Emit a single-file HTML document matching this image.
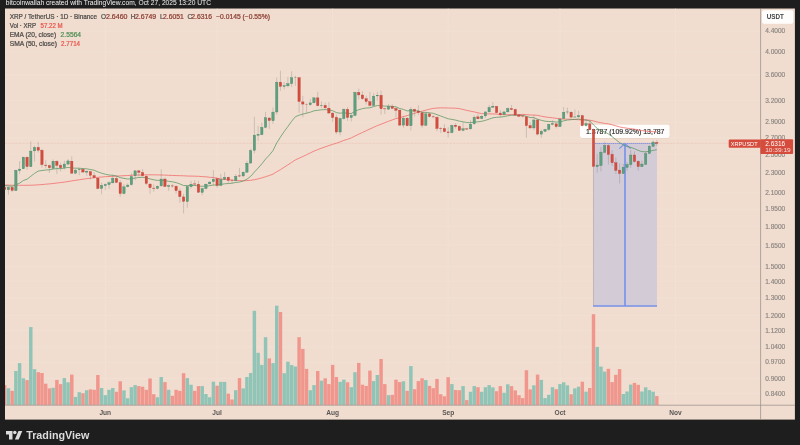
<!DOCTYPE html>
<html lang="en"><head><meta charset="utf-8"><title>XRP / TetherUS chart</title>
<style>html,body{margin:0;padding:0;background:#1e1e1e;overflow:hidden}svg{display:block}text{font-family:"Liberation Sans",Arial,sans-serif}.hd text{stroke:#4d4a48;stroke-width:.22}.hd text[fill="#8c3c33"]{stroke:#8c3c33}.hd text[fill="#e8534a"]{stroke:#e8534a}.hd text[fill="#4f8f55"]{stroke:#4f8f55}.ax text{stroke:#8b8581;stroke-width:.15}</style></head><body>
<svg width="800" height="445" viewBox="0 0 800 445">
<rect width="800" height="445" fill="#1e1e1e"/>
<rect x="5" y="8.3" width="789.9" height="411.3" fill="#f0ddcf"/>
<g stroke="#f3e3d6" stroke-width="0.6" fill="none">
<line x1="5" x2="760.5" y1="30.9" y2="30.9"/>
<line x1="5" x2="760.5" y1="51.8" y2="51.8"/>
<line x1="5" x2="760.5" y1="74.9" y2="74.9"/>
<line x1="5" x2="760.5" y1="100.7" y2="100.7"/>
<line x1="5" x2="760.5" y1="122.2" y2="122.2"/>
<line x1="5" x2="760.5" y1="137.9" y2="137.9"/>
<line x1="5" x2="760.5" y1="154.7" y2="154.7"/>
<line x1="5" x2="760.5" y1="173.0" y2="173.0"/>
<line x1="5" x2="760.5" y1="192.9" y2="192.9"/>
<line x1="5" x2="760.5" y1="209.1" y2="209.1"/>
<line x1="5" x2="760.5" y1="226.7" y2="226.7"/>
<line x1="5" x2="760.5" y1="245.7" y2="245.7"/>
<line x1="5" x2="760.5" y1="266.6" y2="266.6"/>
<line x1="5" x2="760.5" y1="281.7" y2="281.7"/>
<line x1="5" x2="760.5" y1="297.9" y2="297.9"/>
<line x1="5" x2="760.5" y1="315.5" y2="315.5"/>
<line x1="5" x2="760.5" y1="330.6" y2="330.6"/>
<line x1="5" x2="760.5" y1="346.8" y2="346.8"/>
<line x1="5" x2="760.5" y1="362.1" y2="362.1"/>
<line x1="5" x2="760.5" y1="378.5" y2="378.5"/>
<line x1="5" x2="760.5" y1="393.6" y2="393.6"/>
<line x1="105.3" x2="105.3" y1="8" y2="405"/>
<line x1="217.1" x2="217.1" y1="8" y2="405"/>
<line x1="332.6" x2="332.6" y1="8" y2="405"/>
<line x1="448.2" x2="448.2" y1="8" y2="405"/>
<line x1="560.0" x2="560.0" y1="8" y2="405"/>
<line x1="675.5" x2="675.5" y1="8" y2="405"/>
</g>
<g>
<rect x="5.00" y="385.1" width="1.43" height="19.8" fill="#f0968d"/>
<rect x="6.71" y="388.2" width="3.45" height="16.7" fill="#8fc4b6"/>
<rect x="10.43" y="390.8" width="3.45" height="14.1" fill="#f0968d"/>
<rect x="14.16" y="371.0" width="3.45" height="33.9" fill="#8fc4b6"/>
<rect x="17.88" y="363.1" width="3.45" height="41.8" fill="#8fc4b6"/>
<rect x="21.61" y="378.3" width="3.45" height="26.6" fill="#8fc4b6"/>
<rect x="25.34" y="380.1" width="3.45" height="24.8" fill="#f0968d"/>
<rect x="29.06" y="327.1" width="3.45" height="77.8" fill="#8fc4b6"/>
<rect x="32.79" y="369.2" width="3.45" height="35.7" fill="#8fc4b6"/>
<rect x="36.52" y="372.2" width="3.45" height="32.7" fill="#f0968d"/>
<rect x="40.24" y="373.0" width="3.45" height="31.9" fill="#f0968d"/>
<rect x="43.97" y="383.7" width="3.45" height="21.2" fill="#f0968d"/>
<rect x="47.70" y="388.4" width="3.45" height="16.5" fill="#f0968d"/>
<rect x="51.42" y="387.8" width="3.45" height="17.1" fill="#8fc4b6"/>
<rect x="55.15" y="379.9" width="3.45" height="25.0" fill="#f0968d"/>
<rect x="58.88" y="384.1" width="3.45" height="20.8" fill="#f0968d"/>
<rect x="62.60" y="378.1" width="3.45" height="26.8" fill="#8fc4b6"/>
<rect x="66.33" y="382.3" width="3.45" height="22.6" fill="#8fc4b6"/>
<rect x="70.06" y="374.6" width="3.45" height="30.3" fill="#f0968d"/>
<rect x="73.78" y="396.9" width="3.45" height="8.0" fill="#8fc4b6"/>
<rect x="77.51" y="392.2" width="3.45" height="12.7" fill="#8fc4b6"/>
<rect x="81.24" y="393.2" width="3.45" height="11.7" fill="#f0968d"/>
<rect x="84.96" y="390.2" width="3.45" height="14.7" fill="#8fc4b6"/>
<rect x="88.69" y="389.4" width="3.45" height="15.5" fill="#f0968d"/>
<rect x="92.41" y="389.8" width="3.45" height="15.1" fill="#f0968d"/>
<rect x="96.14" y="375.0" width="3.45" height="29.9" fill="#f0968d"/>
<rect x="99.87" y="388.0" width="3.45" height="16.9" fill="#8fc4b6"/>
<rect x="103.59" y="395.2" width="3.45" height="9.7" fill="#8fc4b6"/>
<rect x="107.32" y="389.8" width="3.45" height="15.1" fill="#8fc4b6"/>
<rect x="111.05" y="388.0" width="3.45" height="16.9" fill="#8fc4b6"/>
<rect x="114.77" y="391.8" width="3.45" height="13.1" fill="#f0968d"/>
<rect x="118.50" y="381.3" width="3.45" height="23.6" fill="#f0968d"/>
<rect x="122.23" y="390.4" width="3.45" height="14.5" fill="#8fc4b6"/>
<rect x="125.95" y="398.3" width="3.45" height="6.6" fill="#8fc4b6"/>
<rect x="129.68" y="387.2" width="3.45" height="17.7" fill="#8fc4b6"/>
<rect x="133.41" y="385.1" width="3.45" height="19.8" fill="#8fc4b6"/>
<rect x="137.13" y="386.1" width="3.45" height="18.8" fill="#f0968d"/>
<rect x="140.86" y="386.7" width="3.45" height="18.2" fill="#f0968d"/>
<rect x="144.59" y="389.8" width="3.45" height="15.1" fill="#f0968d"/>
<rect x="148.31" y="378.5" width="3.45" height="26.4" fill="#f0968d"/>
<rect x="152.04" y="394.2" width="3.45" height="10.7" fill="#f0968d"/>
<rect x="155.77" y="397.3" width="3.45" height="7.6" fill="#8fc4b6"/>
<rect x="159.49" y="377.0" width="3.45" height="27.9" fill="#8fc4b6"/>
<rect x="163.22" y="382.1" width="3.45" height="22.8" fill="#f0968d"/>
<rect x="166.94" y="389.8" width="3.45" height="15.1" fill="#8fc4b6"/>
<rect x="170.67" y="395.8" width="3.45" height="9.1" fill="#f0968d"/>
<rect x="174.40" y="389.8" width="3.45" height="15.1" fill="#f0968d"/>
<rect x="178.12" y="390.8" width="3.45" height="14.1" fill="#f0968d"/>
<rect x="181.85" y="373.2" width="3.45" height="31.7" fill="#f0968d"/>
<rect x="185.58" y="378.1" width="3.45" height="26.8" fill="#8fc4b6"/>
<rect x="189.30" y="384.7" width="3.45" height="20.2" fill="#8fc4b6"/>
<rect x="193.03" y="390.8" width="3.45" height="14.1" fill="#f0968d"/>
<rect x="196.76" y="386.1" width="3.45" height="18.8" fill="#f0968d"/>
<rect x="200.48" y="386.1" width="3.45" height="18.8" fill="#8fc4b6"/>
<rect x="204.21" y="394.0" width="3.45" height="10.9" fill="#8fc4b6"/>
<rect x="207.94" y="397.3" width="3.45" height="7.6" fill="#8fc4b6"/>
<rect x="211.66" y="381.7" width="3.45" height="23.2" fill="#8fc4b6"/>
<rect x="215.39" y="385.7" width="3.45" height="19.2" fill="#f0968d"/>
<rect x="219.12" y="381.9" width="3.45" height="23.0" fill="#8fc4b6"/>
<rect x="222.84" y="381.9" width="3.45" height="23.0" fill="#8fc4b6"/>
<rect x="226.57" y="393.6" width="3.45" height="11.3" fill="#f0968d"/>
<rect x="230.30" y="399.5" width="3.45" height="5.4" fill="#f0968d"/>
<rect x="234.02" y="390.2" width="3.45" height="14.7" fill="#8fc4b6"/>
<rect x="237.75" y="378.1" width="3.45" height="26.8" fill="#f0968d"/>
<rect x="241.47" y="388.4" width="3.45" height="16.5" fill="#8fc4b6"/>
<rect x="245.20" y="377.0" width="3.45" height="27.9" fill="#8fc4b6"/>
<rect x="248.93" y="373.0" width="3.45" height="31.9" fill="#8fc4b6"/>
<rect x="252.65" y="310.8" width="3.45" height="94.1" fill="#8fc4b6"/>
<rect x="256.38" y="352.8" width="3.45" height="52.1" fill="#8fc4b6"/>
<rect x="260.11" y="364.9" width="3.45" height="40.0" fill="#8fc4b6"/>
<rect x="263.83" y="337.2" width="3.45" height="67.7" fill="#8fc4b6"/>
<rect x="267.56" y="358.4" width="3.45" height="46.5" fill="#f0968d"/>
<rect x="271.29" y="363.1" width="3.45" height="41.8" fill="#8fc4b6"/>
<rect x="275.01" y="305.7" width="3.45" height="99.2" fill="#8fc4b6"/>
<rect x="278.74" y="312.0" width="3.45" height="92.9" fill="#f0968d"/>
<rect x="282.47" y="373.2" width="3.45" height="31.7" fill="#8fc4b6"/>
<rect x="286.19" y="361.7" width="3.45" height="43.2" fill="#8fc4b6"/>
<rect x="289.92" y="365.1" width="3.45" height="39.8" fill="#8fc4b6"/>
<rect x="293.65" y="366.5" width="3.45" height="38.4" fill="#8fc4b6"/>
<rect x="297.37" y="337.2" width="3.45" height="67.7" fill="#f0968d"/>
<rect x="301.10" y="348.9" width="3.45" height="56.0" fill="#f0968d"/>
<rect x="304.82" y="368.9" width="3.45" height="36.0" fill="#f0968d"/>
<rect x="308.55" y="390.2" width="3.45" height="14.7" fill="#8fc4b6"/>
<rect x="312.28" y="385.1" width="3.45" height="19.8" fill="#8fc4b6"/>
<rect x="316.00" y="371.0" width="3.45" height="33.9" fill="#f0968d"/>
<rect x="319.73" y="380.7" width="3.45" height="24.2" fill="#8fc4b6"/>
<rect x="323.46" y="378.3" width="3.45" height="26.6" fill="#f0968d"/>
<rect x="327.18" y="384.1" width="3.45" height="20.8" fill="#f0968d"/>
<rect x="330.91" y="364.9" width="3.45" height="40.0" fill="#f0968d"/>
<rect x="334.64" y="377.0" width="3.45" height="27.9" fill="#f0968d"/>
<rect x="338.36" y="381.9" width="3.45" height="23.0" fill="#8fc4b6"/>
<rect x="342.09" y="379.7" width="3.45" height="25.2" fill="#8fc4b6"/>
<rect x="345.82" y="382.3" width="3.45" height="22.6" fill="#f0968d"/>
<rect x="349.54" y="387.2" width="3.45" height="17.7" fill="#8fc4b6"/>
<rect x="353.27" y="372.2" width="3.45" height="32.7" fill="#8fc4b6"/>
<rect x="357.00" y="362.9" width="3.45" height="42.0" fill="#f0968d"/>
<rect x="360.72" y="384.7" width="3.45" height="20.2" fill="#f0968d"/>
<rect x="364.45" y="385.9" width="3.45" height="19.0" fill="#f0968d"/>
<rect x="368.18" y="370.6" width="3.45" height="34.3" fill="#f0968d"/>
<rect x="371.90" y="381.1" width="3.45" height="23.8" fill="#8fc4b6"/>
<rect x="375.63" y="375.0" width="3.45" height="29.9" fill="#8fc4b6"/>
<rect x="379.36" y="359.0" width="3.45" height="45.9" fill="#f0968d"/>
<rect x="383.08" y="384.1" width="3.45" height="20.8" fill="#f0968d"/>
<rect x="386.81" y="395.2" width="3.45" height="9.7" fill="#8fc4b6"/>
<rect x="390.53" y="394.8" width="3.45" height="10.1" fill="#f0968d"/>
<rect x="394.26" y="379.7" width="3.45" height="25.2" fill="#f0968d"/>
<rect x="397.99" y="382.1" width="3.45" height="22.8" fill="#f0968d"/>
<rect x="401.71" y="381.3" width="3.45" height="23.6" fill="#8fc4b6"/>
<rect x="405.44" y="390.8" width="3.45" height="14.1" fill="#f0968d"/>
<rect x="409.17" y="366.1" width="3.45" height="38.8" fill="#8fc4b6"/>
<rect x="412.89" y="389.2" width="3.45" height="15.7" fill="#f0968d"/>
<rect x="416.62" y="381.1" width="3.45" height="23.8" fill="#f0968d"/>
<rect x="420.35" y="378.3" width="3.45" height="26.6" fill="#f0968d"/>
<rect x="424.07" y="380.1" width="3.45" height="24.8" fill="#8fc4b6"/>
<rect x="427.80" y="385.9" width="3.45" height="19.0" fill="#f0968d"/>
<rect x="431.53" y="388.2" width="3.45" height="16.7" fill="#f0968d"/>
<rect x="435.25" y="378.9" width="3.45" height="26.0" fill="#f0968d"/>
<rect x="438.98" y="394.2" width="3.45" height="10.7" fill="#f0968d"/>
<rect x="442.71" y="396.3" width="3.45" height="8.6" fill="#f0968d"/>
<rect x="446.43" y="377.2" width="3.45" height="27.7" fill="#f0968d"/>
<rect x="450.16" y="384.1" width="3.45" height="20.8" fill="#8fc4b6"/>
<rect x="453.88" y="390.0" width="3.45" height="14.9" fill="#f0968d"/>
<rect x="457.61" y="390.2" width="3.45" height="14.7" fill="#f0968d"/>
<rect x="461.34" y="386.1" width="3.45" height="18.8" fill="#8fc4b6"/>
<rect x="465.06" y="400.1" width="3.45" height="4.8" fill="#f0968d"/>
<rect x="468.79" y="391.8" width="3.45" height="13.1" fill="#8fc4b6"/>
<rect x="472.52" y="386.1" width="3.45" height="18.8" fill="#8fc4b6"/>
<rect x="476.24" y="387.2" width="3.45" height="17.7" fill="#f0968d"/>
<rect x="479.97" y="391.8" width="3.45" height="13.1" fill="#8fc4b6"/>
<rect x="483.70" y="387.2" width="3.45" height="17.7" fill="#8fc4b6"/>
<rect x="487.42" y="385.1" width="3.45" height="19.8" fill="#8fc4b6"/>
<rect x="491.15" y="387.4" width="3.45" height="17.5" fill="#8fc4b6"/>
<rect x="494.88" y="391.2" width="3.45" height="13.7" fill="#f0968d"/>
<rect x="498.60" y="386.1" width="3.45" height="18.8" fill="#f0968d"/>
<rect x="502.33" y="392.8" width="3.45" height="12.1" fill="#8fc4b6"/>
<rect x="506.06" y="384.3" width="3.45" height="20.6" fill="#8fc4b6"/>
<rect x="509.78" y="386.1" width="3.45" height="18.8" fill="#f0968d"/>
<rect x="513.51" y="390.4" width="3.45" height="14.5" fill="#f0968d"/>
<rect x="517.24" y="395.2" width="3.45" height="9.7" fill="#f0968d"/>
<rect x="520.96" y="398.1" width="3.45" height="6.8" fill="#f0968d"/>
<rect x="524.69" y="370.2" width="3.45" height="34.7" fill="#f0968d"/>
<rect x="528.41" y="389.4" width="3.45" height="15.5" fill="#f0968d"/>
<rect x="532.14" y="385.3" width="3.45" height="19.6" fill="#8fc4b6"/>
<rect x="535.87" y="374.6" width="3.45" height="30.3" fill="#f0968d"/>
<rect x="539.59" y="379.9" width="3.45" height="25.0" fill="#8fc4b6"/>
<rect x="543.32" y="398.1" width="3.45" height="6.8" fill="#8fc4b6"/>
<rect x="547.05" y="394.8" width="3.45" height="10.1" fill="#8fc4b6"/>
<rect x="550.77" y="387.2" width="3.45" height="17.7" fill="#8fc4b6"/>
<rect x="554.50" y="389.2" width="3.45" height="15.7" fill="#f0968d"/>
<rect x="558.23" y="384.1" width="3.45" height="20.8" fill="#8fc4b6"/>
<rect x="561.95" y="382.3" width="3.45" height="22.6" fill="#8fc4b6"/>
<rect x="565.68" y="385.3" width="3.45" height="19.6" fill="#8fc4b6"/>
<rect x="569.41" y="394.2" width="3.45" height="10.7" fill="#f0968d"/>
<rect x="573.13" y="388.4" width="3.45" height="16.5" fill="#8fc4b6"/>
<rect x="576.86" y="386.7" width="3.45" height="18.2" fill="#8fc4b6"/>
<rect x="580.59" y="381.7" width="3.45" height="23.2" fill="#f0968d"/>
<rect x="584.31" y="391.7" width="3.45" height="13.2" fill="#8fc4b6"/>
<rect x="588.04" y="388.0" width="3.45" height="16.9" fill="#f0968d"/>
<rect x="591.77" y="314.2" width="3.45" height="90.7" fill="#f0968d"/>
<rect x="595.49" y="346.9" width="3.45" height="58.0" fill="#8fc4b6"/>
<rect x="599.22" y="366.6" width="3.45" height="38.3" fill="#8fc4b6"/>
<rect x="602.94" y="371.6" width="3.45" height="33.3" fill="#8fc4b6"/>
<rect x="606.67" y="368.8" width="3.45" height="36.1" fill="#f0968d"/>
<rect x="610.40" y="382.1" width="3.45" height="22.8" fill="#f0968d"/>
<rect x="614.12" y="374.8" width="3.45" height="30.1" fill="#f0968d"/>
<rect x="617.85" y="369.1" width="3.45" height="35.8" fill="#f0968d"/>
<rect x="621.58" y="394.0" width="3.45" height="10.9" fill="#8fc4b6"/>
<rect x="625.30" y="391.5" width="3.45" height="13.4" fill="#8fc4b6"/>
<rect x="629.03" y="384.6" width="3.45" height="20.3" fill="#8fc4b6"/>
<rect x="632.76" y="382.9" width="3.45" height="22.0" fill="#f0968d"/>
<rect x="636.48" y="384.8" width="3.45" height="20.1" fill="#f0968d"/>
<rect x="640.21" y="391.5" width="3.45" height="13.4" fill="#8fc4b6"/>
<rect x="643.94" y="387.3" width="3.45" height="17.6" fill="#8fc4b6"/>
<rect x="647.66" y="390.1" width="3.45" height="14.8" fill="#8fc4b6"/>
<rect x="651.39" y="391.7" width="3.45" height="13.2" fill="#8fc4b6"/>
<rect x="655.12" y="396.1" width="3.45" height="8.8" fill="#f0968d"/>
</g>
<rect x="593.5" y="143.4" width="63.5" height="162.6" fill="#d3cbd6"/>
<g stroke="#7590ec" fill="none"><line x1="593.1" x2="657" y1="306" y2="306" stroke-width="1.5"/><line x1="595" x2="657" y1="143.45" y2="143.45" stroke-width="1" stroke-dasharray="1.6 0.4"/><line x1="625" x2="625" y1="143.4" y2="306" stroke-width="1.6"/><polyline points="619.3,148.7 625,143.6 630.7,148.7" stroke-width="1.1"/></g>
<rect x="580" y="125.3" width="89.6" height="13.2" rx="2.2" fill="#7a5a40" fill-opacity="0.12"/>
<rect x="580" y="124.8" width="89.6" height="13.2" rx="2.2" fill="#fffdfc"/>
<text x="586" y="134" font-size="7" fill="#2a2a2a" stroke="#2a2a2a" stroke-width="0.15" textLength="78.5" lengthAdjust="spacingAndGlyphs">1.3787 (109.92%) 13,787</text>
<line x1="5" x2="729" y1="143.4" y2="143.4" stroke="#e8a99d" stroke-width="0.5" stroke-dasharray="0.6 0.8"/>
<path d="M5.0,185.0 L8.4,185.1 L12.2,185.2 L15.9,185.3 L19.6,185.3 L23.3,185.3 L27.1,185.3 L30.8,185.2 L34.5,185.1 L38.2,184.8 L42.0,184.6 L45.7,184.2 L49.4,183.9 L53.1,183.5 L56.9,183.0 L60.6,182.6 L64.3,182.1 L68.1,181.5 L71.8,180.9 L75.5,180.3 L79.2,179.8 L83.0,179.2 L86.7,178.7 L90.4,178.2 L94.1,177.7 L97.9,177.3 L101.6,177.0 L105.3,176.7 L109.0,176.5 L112.8,176.3 L116.5,176.1 L120.2,175.9 L124.0,175.7 L127.7,175.5 L131.4,175.3 L135.1,175.1 L138.9,175.0 L142.6,174.9 L146.3,174.8 L150.0,174.8 L153.8,174.8 L157.5,174.9 L161.2,175.0 L164.9,175.1 L168.7,175.3 L172.4,175.4 L176.1,175.6 L179.8,175.7 L183.6,175.8 L187.3,176.0 L191.0,176.1 L194.8,176.2 L198.5,176.3 L202.2,176.6 L205.9,176.8 L209.7,177.3 L213.4,177.5 L217.1,178.2 L220.8,178.9 L224.6,179.5 L228.3,179.8 L232.0,180.1 L235.7,180.3 L239.5,180.6 L243.2,180.8 L246.9,180.6 L250.7,180.3 L254.4,179.7 L258.1,178.9 L261.8,177.9 L265.6,176.7 L269.3,175.5 L273.0,174.1 L276.7,171.8 L280.5,169.6 L284.2,167.2 L287.9,164.9 L291.6,162.4 L295.4,159.9 L299.1,158.2 L302.8,156.5 L306.6,154.7 L310.3,152.9 L314.0,151.1 L317.7,149.6 L321.5,148.2 L325.2,146.9 L328.9,145.6 L332.6,144.3 L336.4,143.3 L340.1,141.9 L343.8,140.4 L347.5,139.3 L351.3,137.9 L355.0,136.0 L358.7,134.2 L362.4,132.5 L366.2,130.7 L369.9,129.0 L373.6,127.3 L377.4,125.6 L381.1,124.2 L384.8,122.7 L388.5,121.3 L392.3,119.9 L396.0,118.6 L399.7,117.7 L403.4,116.6 L407.2,115.6 L410.9,114.4 L414.6,113.3 L418.3,112.1 L422.1,111.2 L425.8,110.2 L429.5,109.2 L433.3,108.4 L437.0,108.0 L440.7,107.9 L444.4,107.9 L448.2,108.0 L451.9,108.1 L455.6,108.2 L459.3,108.6 L463.1,109.5 L466.8,110.4 L470.5,111.2 L474.2,111.9 L478.0,112.8 L481.7,113.6 L485.4,113.8 L489.1,113.9 L492.9,113.9 L496.6,114.1 L500.3,114.5 L504.1,114.6 L507.8,114.7 L511.5,114.7 L515.2,114.8 L519.0,114.7 L522.7,114.4 L526.4,114.6 L530.1,115.0 L533.9,115.0 L537.6,115.4 L541.3,116.2 L545.0,116.9 L548.8,117.4 L552.5,117.8 L556.2,118.3 L560.0,118.7 L563.7,119.1 L567.4,119.2 L571.1,119.3 L574.9,119.5 L578.6,119.7 L582.3,120.0 L586.0,119.9 L589.8,120.2 L593.5,120.9 L597.2,122.0 L600.9,122.7 L604.7,123.4 L608.4,123.9 L612.1,124.8 L615.8,125.8 L619.6,126.9 L623.3,127.6 L627.0,128.2 L630.8,128.7 L634.5,129.2 L638.2,130.0 L641.9,130.7 L645.7,131.1 L649.4,131.4 L653.1,131.7 L656.8,132.1" fill="none" stroke="#f26d6d" stroke-width="0.8" stroke-linejoin="round"/>
<path d="M5.0,185.7 L8.4,185.9 L12.2,186.3 L15.9,184.7 L19.6,183.2 L23.3,180.5 L27.1,179.2 L30.8,176.3 L34.5,173.4 L38.2,171.1 L42.0,170.5 L45.7,170.0 L49.4,169.8 L53.1,169.0 L56.9,168.6 L60.6,168.6 L64.3,168.1 L68.1,167.4 L71.8,168.0 L75.5,168.2 L79.2,168.2 L83.0,168.6 L86.7,168.8 L90.4,169.5 L94.1,170.2 L97.9,171.9 L101.6,173.2 L105.3,174.2 L109.0,175.0 L112.8,175.3 L116.5,176.0 L120.2,177.6 L124.0,178.4 L127.7,179.0 L131.4,178.8 L135.1,178.0 L138.9,177.5 L142.6,177.3 L146.3,177.9 L150.0,178.9 L153.8,179.8 L157.5,180.4 L161.2,180.2 L164.9,180.8 L168.7,181.3 L172.4,181.8 L176.1,182.6 L179.8,183.9 L183.6,185.5 L187.3,185.6 L191.0,185.5 L194.8,185.4 L198.5,186.0 L202.2,186.3 L205.9,186.1 L209.7,185.7 L213.4,185.0 L217.1,185.1 L220.8,184.5 L224.6,183.8 L228.3,183.5 L232.0,183.2 L235.7,182.5 L239.5,182.0 L243.2,181.0 L246.9,179.2 L250.7,176.3 L254.4,172.0 L258.1,168.1 L261.8,163.9 L265.6,159.0 L269.3,155.1 L273.0,150.6 L276.7,143.0 L280.5,137.0 L284.2,131.5 L287.9,126.5 L291.6,121.3 L295.4,116.7 L299.1,115.2 L302.8,114.1 L306.6,113.2 L310.3,112.2 L314.0,110.8 L317.7,110.3 L321.5,109.8 L325.2,109.6 L328.9,110.0 L332.6,110.7 L336.4,112.6 L340.1,113.2 L343.8,112.8 L347.5,113.3 L351.3,113.5 L355.0,111.3 L358.7,109.7 L362.4,108.7 L366.2,108.0 L369.9,107.8 L373.6,106.6 L377.4,105.5 L381.1,105.8 L384.8,106.1 L388.5,106.2 L392.3,106.4 L396.0,106.8 L399.7,108.5 L403.4,109.4 L407.2,110.9 L410.9,110.7 L414.6,110.8 L418.3,111.0 L422.1,112.3 L425.8,112.4 L429.5,112.8 L433.3,113.3 L437.0,114.7 L440.7,116.0 L444.4,117.4 L448.2,118.8 L451.9,119.4 L455.6,120.1 L459.3,121.1 L463.1,121.8 L466.8,122.5 L470.5,122.7 L474.2,122.1 L478.0,121.8 L481.7,121.3 L485.4,120.4 L489.1,119.1 L492.9,117.8 L496.6,117.3 L500.3,117.1 L504.1,116.6 L507.8,115.8 L511.5,115.2 L515.2,115.2 L519.0,115.3 L522.7,115.4 L526.4,116.4 L530.1,117.5 L533.9,117.7 L537.6,119.2 L541.3,120.3 L545.0,121.2 L548.8,121.5 L552.5,121.6 L556.2,122.1 L560.0,121.8 L563.7,120.9 L567.4,120.0 L571.1,119.7 L574.9,119.4 L578.6,119.0 L582.3,119.7 L586.0,120.0 L589.8,121.0 L593.5,124.9 L597.2,128.4 L600.9,130.6 L604.7,131.9 L608.4,134.0 L612.1,136.6 L615.8,139.6 L619.6,142.6 L623.3,144.9 L627.0,146.6 L630.8,147.4 L634.5,148.7 L638.2,150.4 L641.9,151.6 L645.7,151.8 L649.4,151.3 L653.1,150.4 L656.8,149.7" fill="none" stroke="#5a9660" stroke-width="0.75" stroke-linejoin="round"/>
<g>
<line x1="4.70" x2="4.70" y1="186.5" y2="190.3" stroke="#6f6f6f" stroke-opacity="0.5" stroke-width="0.55"/>
<line x1="8.43" x2="8.43" y1="186.5" y2="194.7" stroke="#6f6f6f" stroke-opacity="0.5" stroke-width="0.55"/>
<line x1="12.16" x2="12.16" y1="186.5" y2="192.2" stroke="#6f6f6f" stroke-opacity="0.5" stroke-width="0.55"/>
<line x1="15.88" x2="15.88" y1="169.6" y2="190.9" stroke="#6f6f6f" stroke-opacity="0.5" stroke-width="0.55"/>
<line x1="19.61" x2="19.61" y1="161.1" y2="174.0" stroke="#6f6f6f" stroke-opacity="0.5" stroke-width="0.55"/>
<line x1="23.34" x2="23.34" y1="156.7" y2="169.2" stroke="#6f6f6f" stroke-opacity="0.5" stroke-width="0.55"/>
<line x1="27.06" x2="27.06" y1="156.7" y2="169.6" stroke="#6f6f6f" stroke-opacity="0.5" stroke-width="0.55"/>
<line x1="30.79" x2="30.79" y1="141.3" y2="167.0" stroke="#6f6f6f" stroke-opacity="0.5" stroke-width="0.55"/>
<line x1="34.52" x2="34.52" y1="145.7" y2="161.4" stroke="#6f6f6f" stroke-opacity="0.5" stroke-width="0.55"/>
<line x1="38.24" x2="38.24" y1="141.9" y2="152.6" stroke="#6f6f6f" stroke-opacity="0.5" stroke-width="0.55"/>
<line x1="41.97" x2="41.97" y1="148.8" y2="167.7" stroke="#6f6f6f" stroke-opacity="0.5" stroke-width="0.55"/>
<line x1="45.70" x2="45.70" y1="160.1" y2="168.3" stroke="#6f6f6f" stroke-opacity="0.5" stroke-width="0.55"/>
<line x1="49.42" x2="49.42" y1="164.5" y2="173.0" stroke="#6f6f6f" stroke-opacity="0.5" stroke-width="0.55"/>
<line x1="53.15" x2="53.15" y1="159.5" y2="168.7" stroke="#6f6f6f" stroke-opacity="0.5" stroke-width="0.55"/>
<line x1="56.87" x2="56.87" y1="160.1" y2="174.0" stroke="#6f6f6f" stroke-opacity="0.5" stroke-width="0.55"/>
<line x1="60.60" x2="60.60" y1="162.6" y2="171.4" stroke="#6f6f6f" stroke-opacity="0.5" stroke-width="0.55"/>
<line x1="64.33" x2="64.33" y1="160.8" y2="169.6" stroke="#6f6f6f" stroke-opacity="0.5" stroke-width="0.55"/>
<line x1="68.05" x2="68.05" y1="159.1" y2="165.2" stroke="#6f6f6f" stroke-opacity="0.5" stroke-width="0.55"/>
<line x1="71.78" x2="71.78" y1="156.4" y2="173.7" stroke="#6f6f6f" stroke-opacity="0.5" stroke-width="0.55"/>
<line x1="75.51" x2="75.51" y1="168.9" y2="174.2" stroke="#6f6f6f" stroke-opacity="0.5" stroke-width="0.55"/>
<line x1="79.23" x2="79.23" y1="168.3" y2="175.2" stroke="#6f6f6f" stroke-opacity="0.5" stroke-width="0.55"/>
<line x1="82.96" x2="82.96" y1="168.3" y2="173.0" stroke="#6f6f6f" stroke-opacity="0.5" stroke-width="0.55"/>
<line x1="86.69" x2="86.69" y1="170.2" y2="175.8" stroke="#6f6f6f" stroke-opacity="0.5" stroke-width="0.55"/>
<line x1="90.41" x2="90.41" y1="170.8" y2="179.6" stroke="#6f6f6f" stroke-opacity="0.5" stroke-width="0.55"/>
<line x1="94.14" x2="94.14" y1="172.1" y2="178.4" stroke="#6f6f6f" stroke-opacity="0.5" stroke-width="0.55"/>
<line x1="97.87" x2="97.87" y1="177.6" y2="189.2" stroke="#6f6f6f" stroke-opacity="0.5" stroke-width="0.55"/>
<line x1="101.59" x2="101.59" y1="182.6" y2="194.2" stroke="#6f6f6f" stroke-opacity="0.5" stroke-width="0.55"/>
<line x1="105.32" x2="105.32" y1="183.3" y2="190.2" stroke="#6f6f6f" stroke-opacity="0.5" stroke-width="0.55"/>
<line x1="109.05" x2="109.05" y1="181.4" y2="188.9" stroke="#6f6f6f" stroke-opacity="0.5" stroke-width="0.55"/>
<line x1="112.77" x2="112.77" y1="174.8" y2="183.6" stroke="#6f6f6f" stroke-opacity="0.5" stroke-width="0.55"/>
<line x1="116.50" x2="116.50" y1="175.7" y2="183.0" stroke="#6f6f6f" stroke-opacity="0.5" stroke-width="0.55"/>
<line x1="120.22" x2="120.22" y1="180.1" y2="196.7" stroke="#6f6f6f" stroke-opacity="0.5" stroke-width="0.55"/>
<line x1="123.95" x2="123.95" y1="184.2" y2="194.2" stroke="#6f6f6f" stroke-opacity="0.5" stroke-width="0.55"/>
<line x1="127.68" x2="127.68" y1="183.3" y2="187.4" stroke="#6f6f6f" stroke-opacity="0.5" stroke-width="0.55"/>
<line x1="131.40" x2="131.40" y1="173.2" y2="185.8" stroke="#6f6f6f" stroke-opacity="0.5" stroke-width="0.55"/>
<line x1="135.13" x2="135.13" y1="170.1" y2="180.1" stroke="#6f6f6f" stroke-opacity="0.5" stroke-width="0.55"/>
<line x1="138.86" x2="138.86" y1="170.1" y2="176.4" stroke="#6f6f6f" stroke-opacity="0.5" stroke-width="0.55"/>
<line x1="142.58" x2="142.58" y1="169.1" y2="176.6" stroke="#6f6f6f" stroke-opacity="0.5" stroke-width="0.55"/>
<line x1="146.31" x2="146.31" y1="175.3" y2="185.2" stroke="#6f6f6f" stroke-opacity="0.5" stroke-width="0.55"/>
<line x1="150.04" x2="150.04" y1="183.3" y2="194.0" stroke="#6f6f6f" stroke-opacity="0.5" stroke-width="0.55"/>
<line x1="153.76" x2="153.76" y1="184.5" y2="191.7" stroke="#6f6f6f" stroke-opacity="0.5" stroke-width="0.55"/>
<line x1="157.49" x2="157.49" y1="185.5" y2="189.2" stroke="#6f6f6f" stroke-opacity="0.5" stroke-width="0.55"/>
<line x1="161.22" x2="161.22" y1="169.4" y2="186.7" stroke="#6f6f6f" stroke-opacity="0.5" stroke-width="0.55"/>
<line x1="164.94" x2="164.94" y1="177.6" y2="187.0" stroke="#6f6f6f" stroke-opacity="0.5" stroke-width="0.55"/>
<line x1="168.67" x2="168.67" y1="184.5" y2="190.8" stroke="#6f6f6f" stroke-opacity="0.5" stroke-width="0.55"/>
<line x1="172.40" x2="172.40" y1="183.9" y2="187.7" stroke="#6f6f6f" stroke-opacity="0.5" stroke-width="0.55"/>
<line x1="176.12" x2="176.12" y1="185.2" y2="193.7" stroke="#6f6f6f" stroke-opacity="0.5" stroke-width="0.55"/>
<line x1="179.85" x2="179.85" y1="188.3" y2="202.8" stroke="#6f6f6f" stroke-opacity="0.5" stroke-width="0.55"/>
<line x1="183.58" x2="183.58" y1="193.7" y2="213.5" stroke="#6f6f6f" stroke-opacity="0.5" stroke-width="0.55"/>
<line x1="187.30" x2="187.30" y1="185.8" y2="207.8" stroke="#6f6f6f" stroke-opacity="0.5" stroke-width="0.55"/>
<line x1="191.03" x2="191.03" y1="180.9" y2="188.4" stroke="#6f6f6f" stroke-opacity="0.5" stroke-width="0.55"/>
<line x1="194.76" x2="194.76" y1="180.0" y2="185.3" stroke="#6f6f6f" stroke-opacity="0.5" stroke-width="0.55"/>
<line x1="198.48" x2="198.48" y1="180.9" y2="192.8" stroke="#6f6f6f" stroke-opacity="0.5" stroke-width="0.55"/>
<line x1="202.21" x2="202.21" y1="187.8" y2="195.3" stroke="#6f6f6f" stroke-opacity="0.5" stroke-width="0.55"/>
<line x1="205.93" x2="205.93" y1="183.4" y2="189.3" stroke="#6f6f6f" stroke-opacity="0.5" stroke-width="0.55"/>
<line x1="209.66" x2="209.66" y1="181.5" y2="184.7" stroke="#6f6f6f" stroke-opacity="0.5" stroke-width="0.55"/>
<line x1="213.39" x2="213.39" y1="170.2" y2="185.3" stroke="#6f6f6f" stroke-opacity="0.5" stroke-width="0.55"/>
<line x1="217.11" x2="217.11" y1="177.7" y2="187.8" stroke="#6f6f6f" stroke-opacity="0.5" stroke-width="0.55"/>
<line x1="220.84" x2="220.84" y1="173.7" y2="186.3" stroke="#6f6f6f" stroke-opacity="0.5" stroke-width="0.55"/>
<line x1="224.57" x2="224.57" y1="172.1" y2="180.0" stroke="#6f6f6f" stroke-opacity="0.5" stroke-width="0.55"/>
<line x1="228.29" x2="228.29" y1="176.5" y2="182.8" stroke="#6f6f6f" stroke-opacity="0.5" stroke-width="0.55"/>
<line x1="232.02" x2="232.02" y1="179.2" y2="183.4" stroke="#6f6f6f" stroke-opacity="0.5" stroke-width="0.55"/>
<line x1="235.75" x2="235.75" y1="174.0" y2="181.5" stroke="#6f6f6f" stroke-opacity="0.5" stroke-width="0.55"/>
<line x1="239.47" x2="239.47" y1="167.9" y2="177.1" stroke="#6f6f6f" stroke-opacity="0.5" stroke-width="0.55"/>
<line x1="243.20" x2="243.20" y1="171.4" y2="177.4" stroke="#6f6f6f" stroke-opacity="0.5" stroke-width="0.55"/>
<line x1="246.93" x2="246.93" y1="160.8" y2="173.0" stroke="#6f6f6f" stroke-opacity="0.5" stroke-width="0.55"/>
<line x1="250.65" x2="250.65" y1="148.8" y2="163.6" stroke="#6f6f6f" stroke-opacity="0.5" stroke-width="0.55"/>
<line x1="254.38" x2="254.38" y1="116.7" y2="153.4" stroke="#6f6f6f" stroke-opacity="0.5" stroke-width="0.55"/>
<line x1="258.11" x2="258.11" y1="125.8" y2="140.8" stroke="#6f6f6f" stroke-opacity="0.5" stroke-width="0.55"/>
<line x1="261.83" x2="261.83" y1="122.6" y2="135.2" stroke="#6f6f6f" stroke-opacity="0.5" stroke-width="0.55"/>
<line x1="265.56" x2="265.56" y1="111.9" y2="128.3" stroke="#6f6f6f" stroke-opacity="0.5" stroke-width="0.55"/>
<line x1="269.29" x2="269.29" y1="117.3" y2="128.9" stroke="#6f6f6f" stroke-opacity="0.5" stroke-width="0.55"/>
<line x1="273.01" x2="273.01" y1="107.5" y2="123.9" stroke="#6f6f6f" stroke-opacity="0.5" stroke-width="0.55"/>
<line x1="276.74" x2="276.74" y1="77.6" y2="114.7" stroke="#6f6f6f" stroke-opacity="0.5" stroke-width="0.55"/>
<line x1="280.46" x2="280.46" y1="70.7" y2="90.8" stroke="#6f6f6f" stroke-opacity="0.5" stroke-width="0.55"/>
<line x1="284.19" x2="284.19" y1="82.0" y2="89.5" stroke="#6f6f6f" stroke-opacity="0.5" stroke-width="0.55"/>
<line x1="287.92" x2="287.92" y1="76.9" y2="87.6" stroke="#6f6f6f" stroke-opacity="0.5" stroke-width="0.55"/>
<line x1="291.64" x2="291.64" y1="71.3" y2="87.0" stroke="#6f6f6f" stroke-opacity="0.5" stroke-width="0.55"/>
<line x1="295.37" x2="295.37" y1="75.7" y2="85.8" stroke="#6f6f6f" stroke-opacity="0.5" stroke-width="0.55"/>
<line x1="299.10" x2="299.10" y1="76.9" y2="112.8" stroke="#6f6f6f" stroke-opacity="0.5" stroke-width="0.55"/>
<line x1="302.82" x2="302.82" y1="95.8" y2="117.2" stroke="#6f6f6f" stroke-opacity="0.5" stroke-width="0.55"/>
<line x1="306.55" x2="306.55" y1="103.4" y2="113.4" stroke="#6f6f6f" stroke-opacity="0.5" stroke-width="0.55"/>
<line x1="310.28" x2="310.28" y1="99.0" y2="105.9" stroke="#6f6f6f" stroke-opacity="0.5" stroke-width="0.55"/>
<line x1="314.00" x2="314.00" y1="97.1" y2="103.4" stroke="#6f6f6f" stroke-opacity="0.5" stroke-width="0.55"/>
<line x1="317.73" x2="317.73" y1="91.8" y2="106.5" stroke="#6f6f6f" stroke-opacity="0.5" stroke-width="0.55"/>
<line x1="321.46" x2="321.46" y1="101.5" y2="108.4" stroke="#6f6f6f" stroke-opacity="0.5" stroke-width="0.55"/>
<line x1="325.18" x2="325.18" y1="102.7" y2="109.3" stroke="#6f6f6f" stroke-opacity="0.5" stroke-width="0.55"/>
<line x1="328.91" x2="328.91" y1="102.1" y2="114.1" stroke="#6f6f6f" stroke-opacity="0.5" stroke-width="0.55"/>
<line x1="332.64" x2="332.64" y1="112.1" y2="122.1" stroke="#6f6f6f" stroke-opacity="0.5" stroke-width="0.55"/>
<line x1="336.36" x2="336.36" y1="114.6" y2="134.1" stroke="#6f6f6f" stroke-opacity="0.5" stroke-width="0.55"/>
<line x1="340.09" x2="340.09" y1="117.7" y2="135.3" stroke="#6f6f6f" stroke-opacity="0.5" stroke-width="0.55"/>
<line x1="343.81" x2="343.81" y1="108.3" y2="119.6" stroke="#6f6f6f" stroke-opacity="0.5" stroke-width="0.55"/>
<line x1="347.54" x2="347.54" y1="107.0" y2="120.9" stroke="#6f6f6f" stroke-opacity="0.5" stroke-width="0.55"/>
<line x1="351.27" x2="351.27" y1="113.3" y2="121.5" stroke="#6f6f6f" stroke-opacity="0.5" stroke-width="0.55"/>
<line x1="354.99" x2="354.99" y1="91.6" y2="116.2" stroke="#6f6f6f" stroke-opacity="0.5" stroke-width="0.55"/>
<line x1="358.72" x2="358.72" y1="88.6" y2="99.5" stroke="#6f6f6f" stroke-opacity="0.5" stroke-width="0.55"/>
<line x1="362.45" x2="362.45" y1="91.1" y2="99.9" stroke="#6f6f6f" stroke-opacity="0.5" stroke-width="0.55"/>
<line x1="366.17" x2="366.17" y1="95.7" y2="104.5" stroke="#6f6f6f" stroke-opacity="0.5" stroke-width="0.55"/>
<line x1="369.90" x2="369.90" y1="91.9" y2="106.2" stroke="#6f6f6f" stroke-opacity="0.5" stroke-width="0.55"/>
<line x1="373.63" x2="373.63" y1="93.2" y2="106.4" stroke="#6f6f6f" stroke-opacity="0.5" stroke-width="0.55"/>
<line x1="377.35" x2="377.35" y1="91.9" y2="100.8" stroke="#6f6f6f" stroke-opacity="0.5" stroke-width="0.55"/>
<line x1="381.08" x2="381.08" y1="90.7" y2="114.6" stroke="#6f6f6f" stroke-opacity="0.5" stroke-width="0.55"/>
<line x1="384.81" x2="384.81" y1="107.7" y2="114.0" stroke="#6f6f6f" stroke-opacity="0.5" stroke-width="0.55"/>
<line x1="388.53" x2="388.53" y1="103.9" y2="109.9" stroke="#6f6f6f" stroke-opacity="0.5" stroke-width="0.55"/>
<line x1="392.26" x2="392.26" y1="103.9" y2="109.2" stroke="#6f6f6f" stroke-opacity="0.5" stroke-width="0.55"/>
<line x1="395.99" x2="395.99" y1="107.7" y2="117.7" stroke="#6f6f6f" stroke-opacity="0.5" stroke-width="0.55"/>
<line x1="399.71" x2="399.71" y1="109.6" y2="125.9" stroke="#6f6f6f" stroke-opacity="0.5" stroke-width="0.55"/>
<line x1="403.44" x2="403.44" y1="115.8" y2="127.8" stroke="#6f6f6f" stroke-opacity="0.5" stroke-width="0.55"/>
<line x1="407.17" x2="407.17" y1="117.1" y2="126.3" stroke="#6f6f6f" stroke-opacity="0.5" stroke-width="0.55"/>
<line x1="410.89" x2="410.89" y1="107.0" y2="130.6" stroke="#6f6f6f" stroke-opacity="0.5" stroke-width="0.55"/>
<line x1="414.62" x2="414.62" y1="108.7" y2="116.5" stroke="#6f6f6f" stroke-opacity="0.5" stroke-width="0.55"/>
<line x1="418.35" x2="418.35" y1="105.2" y2="115.2" stroke="#6f6f6f" stroke-opacity="0.5" stroke-width="0.55"/>
<line x1="422.07" x2="422.07" y1="112.0" y2="127.8" stroke="#6f6f6f" stroke-opacity="0.5" stroke-width="0.55"/>
<line x1="425.80" x2="425.80" y1="112.0" y2="125.9" stroke="#6f6f6f" stroke-opacity="0.5" stroke-width="0.55"/>
<line x1="429.52" x2="429.52" y1="112.9" y2="117.5" stroke="#6f6f6f" stroke-opacity="0.5" stroke-width="0.55"/>
<line x1="433.25" x2="433.25" y1="115.2" y2="118.3" stroke="#6f6f6f" stroke-opacity="0.5" stroke-width="0.55"/>
<line x1="436.98" x2="436.98" y1="116.4" y2="131.3" stroke="#6f6f6f" stroke-opacity="0.5" stroke-width="0.55"/>
<line x1="440.70" x2="440.70" y1="127.1" y2="132.8" stroke="#6f6f6f" stroke-opacity="0.5" stroke-width="0.55"/>
<line x1="444.43" x2="444.43" y1="124.2" y2="132.5" stroke="#6f6f6f" stroke-opacity="0.5" stroke-width="0.55"/>
<line x1="448.16" x2="448.16" y1="127.1" y2="137.6" stroke="#6f6f6f" stroke-opacity="0.5" stroke-width="0.55"/>
<line x1="451.88" x2="451.88" y1="124.6" y2="133.4" stroke="#6f6f6f" stroke-opacity="0.5" stroke-width="0.55"/>
<line x1="455.61" x2="455.61" y1="123.0" y2="128.8" stroke="#6f6f6f" stroke-opacity="0.5" stroke-width="0.55"/>
<line x1="459.34" x2="459.34" y1="125.3" y2="130.9" stroke="#6f6f6f" stroke-opacity="0.5" stroke-width="0.55"/>
<line x1="463.06" x2="463.06" y1="122.1" y2="131.3" stroke="#6f6f6f" stroke-opacity="0.5" stroke-width="0.55"/>
<line x1="466.79" x2="466.79" y1="127.8" y2="130.0" stroke="#6f6f6f" stroke-opacity="0.5" stroke-width="0.55"/>
<line x1="470.52" x2="470.52" y1="120.2" y2="129.7" stroke="#6f6f6f" stroke-opacity="0.5" stroke-width="0.55"/>
<line x1="474.24" x2="474.24" y1="115.2" y2="125.0" stroke="#6f6f6f" stroke-opacity="0.5" stroke-width="0.55"/>
<line x1="477.97" x2="477.97" y1="113.7" y2="119.2" stroke="#6f6f6f" stroke-opacity="0.5" stroke-width="0.55"/>
<line x1="481.70" x2="481.70" y1="115.2" y2="119.2" stroke="#6f6f6f" stroke-opacity="0.5" stroke-width="0.55"/>
<line x1="485.42" x2="485.42" y1="111.2" y2="118.0" stroke="#6f6f6f" stroke-opacity="0.5" stroke-width="0.55"/>
<line x1="489.15" x2="489.15" y1="104.9" y2="112.7" stroke="#6f6f6f" stroke-opacity="0.5" stroke-width="0.55"/>
<line x1="492.88" x2="492.88" y1="102.0" y2="107.9" stroke="#6f6f6f" stroke-opacity="0.5" stroke-width="0.55"/>
<line x1="496.60" x2="496.60" y1="105.8" y2="113.3" stroke="#6f6f6f" stroke-opacity="0.5" stroke-width="0.55"/>
<line x1="500.33" x2="500.33" y1="110.2" y2="117.1" stroke="#6f6f6f" stroke-opacity="0.5" stroke-width="0.55"/>
<line x1="504.05" x2="504.05" y1="110.8" y2="115.2" stroke="#6f6f6f" stroke-opacity="0.5" stroke-width="0.55"/>
<line x1="507.78" x2="507.78" y1="107.6" y2="112.7" stroke="#6f6f6f" stroke-opacity="0.5" stroke-width="0.55"/>
<line x1="511.51" x2="511.51" y1="105.1" y2="110.1" stroke="#6f6f6f" stroke-opacity="0.5" stroke-width="0.55"/>
<line x1="515.23" x2="515.23" y1="108.5" y2="115.8" stroke="#6f6f6f" stroke-opacity="0.5" stroke-width="0.55"/>
<line x1="518.96" x2="518.96" y1="113.9" y2="117.0" stroke="#6f6f6f" stroke-opacity="0.5" stroke-width="0.55"/>
<line x1="522.69" x2="522.69" y1="114.5" y2="117.7" stroke="#6f6f6f" stroke-opacity="0.5" stroke-width="0.55"/>
<line x1="526.41" x2="526.41" y1="115.8" y2="137.8" stroke="#6f6f6f" stroke-opacity="0.5" stroke-width="0.55"/>
<line x1="530.14" x2="530.14" y1="122.1" y2="129.2" stroke="#6f6f6f" stroke-opacity="0.5" stroke-width="0.55"/>
<line x1="533.87" x2="533.87" y1="115.2" y2="130.3" stroke="#6f6f6f" stroke-opacity="0.5" stroke-width="0.55"/>
<line x1="537.59" x2="537.59" y1="118.9" y2="135.3" stroke="#6f6f6f" stroke-opacity="0.5" stroke-width="0.55"/>
<line x1="541.32" x2="541.32" y1="129.6" y2="137.8" stroke="#6f6f6f" stroke-opacity="0.5" stroke-width="0.55"/>
<line x1="545.05" x2="545.05" y1="128.7" y2="132.1" stroke="#6f6f6f" stroke-opacity="0.5" stroke-width="0.55"/>
<line x1="548.77" x2="548.77" y1="123.7" y2="130.9" stroke="#6f6f6f" stroke-opacity="0.5" stroke-width="0.55"/>
<line x1="552.50" x2="552.50" y1="120.2" y2="125.2" stroke="#6f6f6f" stroke-opacity="0.5" stroke-width="0.55"/>
<line x1="556.23" x2="556.23" y1="123.0" y2="128.4" stroke="#6f6f6f" stroke-opacity="0.5" stroke-width="0.55"/>
<line x1="559.95" x2="559.95" y1="117.7" y2="127.1" stroke="#6f6f6f" stroke-opacity="0.5" stroke-width="0.55"/>
<line x1="563.68" x2="563.68" y1="107.0" y2="119.2" stroke="#6f6f6f" stroke-opacity="0.5" stroke-width="0.55"/>
<line x1="567.40" x2="567.40" y1="107.6" y2="114.5" stroke="#6f6f6f" stroke-opacity="0.5" stroke-width="0.55"/>
<line x1="571.13" x2="571.13" y1="111.1" y2="118.3" stroke="#6f6f6f" stroke-opacity="0.5" stroke-width="0.55"/>
<line x1="574.86" x2="574.86" y1="109.5" y2="117.9" stroke="#6f6f6f" stroke-opacity="0.5" stroke-width="0.55"/>
<line x1="578.58" x2="578.58" y1="110.8" y2="117.9" stroke="#6f6f6f" stroke-opacity="0.5" stroke-width="0.55"/>
<line x1="582.31" x2="582.31" y1="114.5" y2="126.5" stroke="#6f6f6f" stroke-opacity="0.5" stroke-width="0.55"/>
<line x1="586.04" x2="586.04" y1="119.6" y2="126.7" stroke="#6f6f6f" stroke-opacity="0.5" stroke-width="0.55"/>
<line x1="589.76" x2="589.76" y1="120.2" y2="130.3" stroke="#6f6f6f" stroke-opacity="0.5" stroke-width="0.55"/>
<line x1="593.49" x2="593.49" y1="128.5" y2="305.8" stroke="#6f6f6f" stroke-opacity="0.5" stroke-width="0.55"/>
<line x1="597.22" x2="597.22" y1="153.8" y2="172.7" stroke="#6f6f6f" stroke-opacity="0.5" stroke-width="0.55"/>
<line x1="600.94" x2="600.94" y1="146.9" y2="171.4" stroke="#6f6f6f" stroke-opacity="0.5" stroke-width="0.55"/>
<line x1="604.67" x2="604.67" y1="141.9" y2="153.2" stroke="#6f6f6f" stroke-opacity="0.5" stroke-width="0.55"/>
<line x1="608.40" x2="608.40" y1="143.8" y2="164.5" stroke="#6f6f6f" stroke-opacity="0.5" stroke-width="0.55"/>
<line x1="612.12" x2="612.12" y1="150.1" y2="165.8" stroke="#6f6f6f" stroke-opacity="0.5" stroke-width="0.55"/>
<line x1="615.85" x2="615.85" y1="157.6" y2="174.0" stroke="#6f6f6f" stroke-opacity="0.5" stroke-width="0.55"/>
<line x1="619.58" x2="619.58" y1="163.3" y2="183.4" stroke="#6f6f6f" stroke-opacity="0.5" stroke-width="0.55"/>
<line x1="623.30" x2="623.30" y1="163.9" y2="174.0" stroke="#6f6f6f" stroke-opacity="0.5" stroke-width="0.55"/>
<line x1="627.03" x2="627.03" y1="162.0" y2="170.8" stroke="#6f6f6f" stroke-opacity="0.5" stroke-width="0.55"/>
<line x1="630.76" x2="630.76" y1="150.1" y2="167.7" stroke="#6f6f6f" stroke-opacity="0.5" stroke-width="0.55"/>
<line x1="634.48" x2="634.48" y1="151.3" y2="162.6" stroke="#6f6f6f" stroke-opacity="0.5" stroke-width="0.55"/>
<line x1="638.21" x2="638.21" y1="160.1" y2="170.8" stroke="#6f6f6f" stroke-opacity="0.5" stroke-width="0.55"/>
<line x1="641.93" x2="641.93" y1="160.8" y2="167.0" stroke="#6f6f6f" stroke-opacity="0.5" stroke-width="0.55"/>
<line x1="645.66" x2="645.66" y1="151.9" y2="164.9" stroke="#6f6f6f" stroke-opacity="0.5" stroke-width="0.55"/>
<line x1="649.39" x2="649.39" y1="145.0" y2="154.1" stroke="#6f6f6f" stroke-opacity="0.5" stroke-width="0.55"/>
<line x1="653.11" x2="653.11" y1="140.6" y2="146.9" stroke="#6f6f6f" stroke-opacity="0.5" stroke-width="0.55"/>
<line x1="656.84" x2="656.84" y1="139.9" y2="145.7" stroke="#6f6f6f" stroke-opacity="0.5" stroke-width="0.55"/>
<rect x="5.17" y="187.34" width="0.70" height="2.17" fill="#d54b3c" stroke="#b8413a" stroke-width="0.35"/>
<rect x="7.25" y="187.34" width="2.35" height="2.42" fill="#5ea07e" stroke="#468466" stroke-width="0.35"/>
<rect x="10.98" y="187.34" width="2.35" height="3.05" fill="#d54b3c" stroke="#b8413a" stroke-width="0.35"/>
<rect x="14.70" y="170.36" width="2.35" height="20.15" fill="#5ea07e" stroke="#468466" stroke-width="0.35"/>
<rect x="18.43" y="169.10" width="2.35" height="1.54" fill="#5ea07e" stroke="#468466" stroke-width="0.35"/>
<rect x="22.16" y="157.15" width="2.35" height="11.60" fill="#5ea07e" stroke="#468466" stroke-width="0.35"/>
<rect x="25.88" y="157.15" width="2.35" height="9.46" fill="#d54b3c" stroke="#b8413a" stroke-width="0.35"/>
<rect x="29.61" y="151.11" width="2.35" height="15.50" fill="#5ea07e" stroke="#468466" stroke-width="0.35"/>
<rect x="33.34" y="147.34" width="2.35" height="3.55" fill="#5ea07e" stroke="#468466" stroke-width="0.35"/>
<rect x="37.06" y="147.34" width="2.35" height="2.92" fill="#d54b3c" stroke="#b8413a" stroke-width="0.35"/>
<rect x="40.79" y="150.23" width="2.35" height="14.37" fill="#d54b3c" stroke="#b8413a" stroke-width="0.35"/>
<rect x="44.52" y="165.08" width="2.35" height="0.53" fill="#d54b3c" stroke="#b8413a" stroke-width="0.35"/>
<rect x="48.24" y="165.70" width="2.35" height="2.04" fill="#d54b3c" stroke="#b8413a" stroke-width="0.35"/>
<rect x="51.97" y="161.18" width="2.35" height="7.07" fill="#5ea07e" stroke="#468466" stroke-width="0.35"/>
<rect x="55.69" y="161.30" width="2.35" height="4.05" fill="#d54b3c" stroke="#b8413a" stroke-width="0.35"/>
<rect x="59.42" y="165.33" width="2.35" height="2.42" fill="#d54b3c" stroke="#b8413a" stroke-width="0.35"/>
<rect x="63.15" y="164.07" width="2.35" height="3.42" fill="#5ea07e" stroke="#468466" stroke-width="0.35"/>
<rect x="66.87" y="160.92" width="2.35" height="3.17" fill="#5ea07e" stroke="#468466" stroke-width="0.35"/>
<rect x="70.60" y="161.18" width="2.35" height="11.98" fill="#d54b3c" stroke="#b8413a" stroke-width="0.35"/>
<rect x="74.33" y="170.11" width="2.35" height="3.05" fill="#5ea07e" stroke="#468466" stroke-width="0.35"/>
<rect x="78.05" y="169.10" width="2.35" height="0.66" fill="#5ea07e" stroke="#468466" stroke-width="0.35"/>
<rect x="81.78" y="169.35" width="2.35" height="2.67" fill="#d54b3c" stroke="#b8413a" stroke-width="0.35"/>
<rect x="85.51" y="171.24" width="2.35" height="0.91" fill="#5ea07e" stroke="#468466" stroke-width="0.35"/>
<rect x="89.23" y="171.62" width="2.35" height="3.68" fill="#d54b3c" stroke="#b8413a" stroke-width="0.35"/>
<rect x="92.96" y="175.64" width="2.35" height="1.91" fill="#d54b3c" stroke="#b8413a" stroke-width="0.35"/>
<rect x="96.69" y="178.16" width="2.35" height="10.34" fill="#d54b3c" stroke="#b8413a" stroke-width="0.35"/>
<rect x="100.41" y="185.33" width="2.35" height="3.17" fill="#5ea07e" stroke="#468466" stroke-width="0.35"/>
<rect x="104.14" y="184.45" width="2.35" height="1.16" fill="#5ea07e" stroke="#468466" stroke-width="0.35"/>
<rect x="107.87" y="182.81" width="2.35" height="1.79" fill="#5ea07e" stroke="#468466" stroke-width="0.35"/>
<rect x="111.59" y="178.16" width="2.35" height="4.68" fill="#5ea07e" stroke="#468466" stroke-width="0.35"/>
<rect x="115.32" y="178.41" width="2.35" height="4.05" fill="#d54b3c" stroke="#b8413a" stroke-width="0.35"/>
<rect x="119.05" y="182.81" width="2.35" height="10.72" fill="#d54b3c" stroke="#b8413a" stroke-width="0.35"/>
<rect x="122.77" y="186.84" width="2.35" height="6.69" fill="#5ea07e" stroke="#468466" stroke-width="0.35"/>
<rect x="126.50" y="185.08" width="2.35" height="1.66" fill="#5ea07e" stroke="#468466" stroke-width="0.35"/>
<rect x="130.22" y="176.52" width="2.35" height="8.20" fill="#5ea07e" stroke="#468466" stroke-width="0.35"/>
<rect x="133.95" y="170.86" width="2.35" height="4.93" fill="#5ea07e" stroke="#468466" stroke-width="0.35"/>
<rect x="137.68" y="170.86" width="2.35" height="1.54" fill="#d54b3c" stroke="#b8413a" stroke-width="0.35"/>
<rect x="141.40" y="172.50" width="2.35" height="3.30" fill="#d54b3c" stroke="#b8413a" stroke-width="0.35"/>
<rect x="145.13" y="176.14" width="2.35" height="7.32" fill="#d54b3c" stroke="#b8413a" stroke-width="0.35"/>
<rect x="148.86" y="184.07" width="2.35" height="3.68" fill="#d54b3c" stroke="#b8413a" stroke-width="0.35"/>
<rect x="152.58" y="188.09" width="2.35" height="0.40" fill="#d54b3c" stroke="#b8413a" stroke-width="0.35"/>
<rect x="156.31" y="186.21" width="2.35" height="2.29" fill="#5ea07e" stroke="#468466" stroke-width="0.35"/>
<rect x="160.04" y="179.04" width="2.35" height="6.82" fill="#5ea07e" stroke="#468466" stroke-width="0.35"/>
<rect x="163.76" y="179.04" width="2.35" height="7.45" fill="#d54b3c" stroke="#b8413a" stroke-width="0.35"/>
<rect x="167.49" y="185.70" width="2.35" height="0.78" fill="#5ea07e" stroke="#468466" stroke-width="0.35"/>
<rect x="171.22" y="185.58" width="2.35" height="0.66" fill="#d54b3c" stroke="#b8413a" stroke-width="0.35" opacity="0.6"/>
<rect x="174.94" y="186.21" width="2.35" height="4.43" fill="#d54b3c" stroke="#b8413a" stroke-width="0.35"/>
<rect x="178.67" y="190.99" width="2.35" height="5.56" fill="#d54b3c" stroke="#b8413a" stroke-width="0.35"/>
<rect x="182.40" y="196.90" width="2.35" height="4.43" fill="#d54b3c" stroke="#b8413a" stroke-width="0.35"/>
<rect x="186.12" y="186.59" width="2.35" height="15.00" fill="#5ea07e" stroke="#468466" stroke-width="0.35"/>
<rect x="189.85" y="184.20" width="2.35" height="2.42" fill="#5ea07e" stroke="#468466" stroke-width="0.35"/>
<rect x="193.58" y="183.57" width="2.35" height="0.91" fill="#d54b3c" stroke="#b8413a" stroke-width="0.35" opacity="0.6"/>
<rect x="197.30" y="184.20" width="2.35" height="8.08" fill="#d54b3c" stroke="#b8413a" stroke-width="0.35"/>
<rect x="201.03" y="188.60" width="2.35" height="3.80" fill="#5ea07e" stroke="#468466" stroke-width="0.35"/>
<rect x="204.75" y="184.20" width="2.35" height="4.30" fill="#5ea07e" stroke="#468466" stroke-width="0.35"/>
<rect x="208.48" y="182.06" width="2.35" height="1.79" fill="#5ea07e" stroke="#468466" stroke-width="0.35"/>
<rect x="212.21" y="179.16" width="2.35" height="2.54" fill="#5ea07e" stroke="#468466" stroke-width="0.35"/>
<rect x="215.93" y="178.79" width="2.35" height="6.57" fill="#d54b3c" stroke="#b8413a" stroke-width="0.35"/>
<rect x="219.66" y="179.54" width="2.35" height="5.81" fill="#5ea07e" stroke="#468466" stroke-width="0.35"/>
<rect x="223.39" y="177.28" width="2.35" height="2.17" fill="#5ea07e" stroke="#468466" stroke-width="0.35"/>
<rect x="227.11" y="177.28" width="2.35" height="3.05" fill="#d54b3c" stroke="#b8413a" stroke-width="0.35"/>
<rect x="230.84" y="180.17" width="2.35" height="0.53" fill="#d54b3c" stroke="#b8413a" stroke-width="0.35" opacity="0.6"/>
<rect x="234.57" y="176.27" width="2.35" height="4.43" fill="#5ea07e" stroke="#468466" stroke-width="0.35"/>
<rect x="238.29" y="175.39" width="2.35" height="0.91" fill="#d54b3c" stroke="#b8413a" stroke-width="0.35" opacity="0.6"/>
<rect x="242.02" y="172.25" width="2.35" height="3.68" fill="#5ea07e" stroke="#468466" stroke-width="0.35"/>
<rect x="245.75" y="163.19" width="2.35" height="8.96" fill="#5ea07e" stroke="#468466" stroke-width="0.35"/>
<rect x="249.47" y="150.61" width="2.35" height="12.48" fill="#5ea07e" stroke="#468466" stroke-width="0.35"/>
<rect x="253.20" y="135.11" width="2.35" height="15.25" fill="#5ea07e" stroke="#468466" stroke-width="0.35"/>
<rect x="256.93" y="134.35" width="2.35" height="0.91" fill="#5ea07e" stroke="#468466" stroke-width="0.35"/>
<rect x="260.65" y="127.43" width="2.35" height="7.20" fill="#5ea07e" stroke="#468466" stroke-width="0.35"/>
<rect x="264.38" y="117.75" width="2.35" height="9.71" fill="#5ea07e" stroke="#468466" stroke-width="0.35"/>
<rect x="268.11" y="118.00" width="2.35" height="2.54" fill="#d54b3c" stroke="#b8413a" stroke-width="0.35"/>
<rect x="271.83" y="112.09" width="2.35" height="8.71" fill="#5ea07e" stroke="#468466" stroke-width="0.35"/>
<rect x="275.56" y="82.15" width="2.35" height="29.84" fill="#5ea07e" stroke="#468466" stroke-width="0.35"/>
<rect x="279.28" y="82.15" width="2.35" height="4.30" fill="#d54b3c" stroke="#b8413a" stroke-width="0.35"/>
<rect x="283.01" y="85.67" width="2.35" height="0.78" fill="#5ea07e" stroke="#468466" stroke-width="0.35"/>
<rect x="286.74" y="83.66" width="2.35" height="2.17" fill="#5ea07e" stroke="#468466" stroke-width="0.35"/>
<rect x="290.46" y="77.75" width="2.35" height="5.94" fill="#5ea07e" stroke="#468466" stroke-width="0.35"/>
<rect x="294.19" y="77.12" width="2.35" height="0.40" fill="#5ea07e" stroke="#468466" stroke-width="0.35" opacity="0.6"/>
<rect x="297.92" y="77.75" width="2.35" height="23.80" fill="#d54b3c" stroke="#b8413a" stroke-width="0.35"/>
<rect x="301.64" y="101.90" width="2.35" height="2.17" fill="#d54b3c" stroke="#b8413a" stroke-width="0.35"/>
<rect x="305.37" y="104.16" width="2.35" height="0.40" fill="#d54b3c" stroke="#b8413a" stroke-width="0.35" opacity="0.6"/>
<rect x="309.10" y="102.91" width="2.35" height="1.79" fill="#5ea07e" stroke="#468466" stroke-width="0.35"/>
<rect x="312.82" y="97.87" width="2.35" height="4.93" fill="#5ea07e" stroke="#468466" stroke-width="0.35"/>
<rect x="316.55" y="97.87" width="2.35" height="7.83" fill="#d54b3c" stroke="#b8413a" stroke-width="0.35"/>
<rect x="320.28" y="105.17" width="2.35" height="0.53" fill="#5ea07e" stroke="#468466" stroke-width="0.35"/>
<rect x="324.00" y="105.42" width="2.35" height="2.42" fill="#d54b3c" stroke="#b8413a" stroke-width="0.35"/>
<rect x="327.73" y="108.19" width="2.35" height="4.81" fill="#d54b3c" stroke="#b8413a" stroke-width="0.35"/>
<rect x="331.46" y="113.13" width="2.35" height="4.43" fill="#d54b3c" stroke="#b8413a" stroke-width="0.35"/>
<rect x="335.18" y="117.28" width="2.35" height="14.74" fill="#d54b3c" stroke="#b8413a" stroke-width="0.35"/>
<rect x="338.91" y="118.53" width="2.35" height="13.49" fill="#5ea07e" stroke="#468466" stroke-width="0.35"/>
<rect x="342.63" y="109.35" width="2.35" height="9.21" fill="#5ea07e" stroke="#468466" stroke-width="0.35"/>
<rect x="346.36" y="109.35" width="2.35" height="8.20" fill="#d54b3c" stroke="#b8413a" stroke-width="0.35"/>
<rect x="350.09" y="115.39" width="2.35" height="2.17" fill="#5ea07e" stroke="#468466" stroke-width="0.35"/>
<rect x="353.81" y="92.37" width="2.35" height="23.05" fill="#5ea07e" stroke="#468466" stroke-width="0.35"/>
<rect x="357.54" y="92.37" width="2.35" height="2.54" fill="#d54b3c" stroke="#b8413a" stroke-width="0.35"/>
<rect x="361.27" y="95.01" width="2.35" height="3.68" fill="#d54b3c" stroke="#b8413a" stroke-width="0.35"/>
<rect x="364.99" y="98.79" width="2.35" height="2.67" fill="#d54b3c" stroke="#b8413a" stroke-width="0.35"/>
<rect x="368.72" y="101.81" width="2.35" height="3.55" fill="#d54b3c" stroke="#b8413a" stroke-width="0.35"/>
<rect x="372.45" y="96.14" width="2.35" height="9.46" fill="#5ea07e" stroke="#468466" stroke-width="0.35"/>
<rect x="376.17" y="95.26" width="2.35" height="0.66" fill="#5ea07e" stroke="#468466" stroke-width="0.35"/>
<rect x="379.90" y="95.26" width="2.35" height="13.49" fill="#d54b3c" stroke="#b8413a" stroke-width="0.35"/>
<rect x="383.63" y="108.47" width="2.35" height="0.53" fill="#d54b3c" stroke="#b8413a" stroke-width="0.35" opacity="0.6"/>
<rect x="387.35" y="106.59" width="2.35" height="2.54" fill="#5ea07e" stroke="#468466" stroke-width="0.35"/>
<rect x="391.08" y="106.59" width="2.35" height="1.79" fill="#d54b3c" stroke="#b8413a" stroke-width="0.35"/>
<rect x="394.81" y="108.47" width="2.35" height="1.79" fill="#d54b3c" stroke="#b8413a" stroke-width="0.35"/>
<rect x="398.53" y="110.11" width="2.35" height="15.00" fill="#d54b3c" stroke="#b8413a" stroke-width="0.35"/>
<rect x="402.26" y="118.16" width="2.35" height="6.95" fill="#5ea07e" stroke="#468466" stroke-width="0.35"/>
<rect x="405.99" y="118.16" width="2.35" height="7.57" fill="#d54b3c" stroke="#b8413a" stroke-width="0.35"/>
<rect x="409.71" y="109.35" width="2.35" height="16.38" fill="#5ea07e" stroke="#468466" stroke-width="0.35"/>
<rect x="413.44" y="109.35" width="2.35" height="1.91" fill="#d54b3c" stroke="#b8413a" stroke-width="0.35"/>
<rect x="417.17" y="110.99" width="2.35" height="1.54" fill="#d54b3c" stroke="#b8413a" stroke-width="0.35"/>
<rect x="420.89" y="112.84" width="2.35" height="12.48" fill="#d54b3c" stroke="#b8413a" stroke-width="0.35"/>
<rect x="424.62" y="113.85" width="2.35" height="11.47" fill="#5ea07e" stroke="#468466" stroke-width="0.35"/>
<rect x="428.34" y="113.85" width="2.35" height="2.67" fill="#d54b3c" stroke="#b8413a" stroke-width="0.35"/>
<rect x="432.07" y="116.24" width="2.35" height="0.78" fill="#d54b3c" stroke="#b8413a" stroke-width="0.35" opacity="0.6"/>
<rect x="435.80" y="117.25" width="2.35" height="11.22" fill="#d54b3c" stroke="#b8413a" stroke-width="0.35"/>
<rect x="439.52" y="128.19" width="2.35" height="0.40" fill="#d54b3c" stroke="#b8413a" stroke-width="0.35"/>
<rect x="443.25" y="128.57" width="2.35" height="3.05" fill="#d54b3c" stroke="#b8413a" stroke-width="0.35"/>
<rect x="446.98" y="131.96" width="2.35" height="0.66" fill="#d54b3c" stroke="#b8413a" stroke-width="0.35"/>
<rect x="450.70" y="125.42" width="2.35" height="7.20" fill="#5ea07e" stroke="#468466" stroke-width="0.35"/>
<rect x="454.43" y="125.17" width="2.35" height="1.41" fill="#d54b3c" stroke="#b8413a" stroke-width="0.35"/>
<rect x="458.16" y="126.43" width="2.35" height="3.93" fill="#d54b3c" stroke="#b8413a" stroke-width="0.35"/>
<rect x="461.88" y="128.82" width="2.35" height="1.54" fill="#5ea07e" stroke="#468466" stroke-width="0.35"/>
<rect x="465.61" y="128.31" width="2.35" height="1.16" fill="#d54b3c" stroke="#b8413a" stroke-width="0.35" opacity="0.6"/>
<rect x="469.34" y="124.16" width="2.35" height="4.68" fill="#5ea07e" stroke="#468466" stroke-width="0.35"/>
<rect x="473.06" y="117.25" width="2.35" height="6.57" fill="#5ea07e" stroke="#468466" stroke-width="0.35"/>
<rect x="476.79" y="116.87" width="2.35" height="1.91" fill="#d54b3c" stroke="#b8413a" stroke-width="0.35"/>
<rect x="480.52" y="116.24" width="2.35" height="2.29" fill="#5ea07e" stroke="#468466" stroke-width="0.35"/>
<rect x="484.24" y="111.96" width="2.35" height="3.93" fill="#5ea07e" stroke="#468466" stroke-width="0.35"/>
<rect x="487.97" y="107.43" width="2.35" height="4.43" fill="#5ea07e" stroke="#468466" stroke-width="0.35"/>
<rect x="491.69" y="106.18" width="2.35" height="1.03" fill="#5ea07e" stroke="#468466" stroke-width="0.35"/>
<rect x="495.42" y="106.30" width="2.35" height="6.44" fill="#d54b3c" stroke="#b8413a" stroke-width="0.35"/>
<rect x="499.15" y="113.09" width="2.35" height="1.66" fill="#d54b3c" stroke="#b8413a" stroke-width="0.35"/>
<rect x="502.87" y="111.96" width="2.35" height="2.67" fill="#5ea07e" stroke="#468466" stroke-width="0.35"/>
<rect x="506.60" y="108.44" width="2.35" height="3.42" fill="#5ea07e" stroke="#468466" stroke-width="0.35"/>
<rect x="510.33" y="108.66" width="2.35" height="0.91" fill="#d54b3c" stroke="#b8413a" stroke-width="0.35"/>
<rect x="514.05" y="109.42" width="2.35" height="5.56" fill="#d54b3c" stroke="#b8413a" stroke-width="0.35"/>
<rect x="517.78" y="114.95" width="2.35" height="1.29" fill="#d54b3c" stroke="#b8413a" stroke-width="0.35"/>
<rect x="521.51" y="115.70" width="2.35" height="0.78" fill="#d54b3c" stroke="#b8413a" stroke-width="0.35" opacity="0.6"/>
<rect x="525.23" y="116.84" width="2.35" height="8.83" fill="#d54b3c" stroke="#b8413a" stroke-width="0.35"/>
<rect x="528.96" y="125.64" width="2.35" height="2.29" fill="#d54b3c" stroke="#b8413a" stroke-width="0.35"/>
<rect x="532.69" y="119.98" width="2.35" height="7.95" fill="#5ea07e" stroke="#468466" stroke-width="0.35"/>
<rect x="536.41" y="119.98" width="2.35" height="14.12" fill="#d54b3c" stroke="#b8413a" stroke-width="0.35"/>
<rect x="540.14" y="131.30" width="2.35" height="2.79" fill="#5ea07e" stroke="#468466" stroke-width="0.35"/>
<rect x="543.87" y="129.42" width="2.35" height="1.91" fill="#5ea07e" stroke="#468466" stroke-width="0.35"/>
<rect x="547.59" y="124.38" width="2.35" height="5.06" fill="#5ea07e" stroke="#468466" stroke-width="0.35"/>
<rect x="551.32" y="123.50" width="2.35" height="0.91" fill="#5ea07e" stroke="#468466" stroke-width="0.35"/>
<rect x="555.05" y="123.88" width="2.35" height="2.67" fill="#d54b3c" stroke="#b8413a" stroke-width="0.35"/>
<rect x="558.77" y="119.10" width="2.35" height="7.45" fill="#5ea07e" stroke="#468466" stroke-width="0.35"/>
<rect x="562.50" y="112.18" width="2.35" height="6.32" fill="#5ea07e" stroke="#468466" stroke-width="0.35"/>
<rect x="566.22" y="111.81" width="2.35" height="0.40" fill="#5ea07e" stroke="#468466" stroke-width="0.35" opacity="0.6"/>
<rect x="569.95" y="112.18" width="2.35" height="4.93" fill="#d54b3c" stroke="#b8413a" stroke-width="0.35"/>
<rect x="573.68" y="116.84" width="2.35" height="0.40" fill="#5ea07e" stroke="#468466" stroke-width="0.35" opacity="0.6"/>
<rect x="577.40" y="115.58" width="2.35" height="1.29" fill="#5ea07e" stroke="#468466" stroke-width="0.35"/>
<rect x="581.13" y="115.70" width="2.35" height="9.96" fill="#d54b3c" stroke="#b8413a" stroke-width="0.35"/>
<rect x="584.86" y="123.50" width="2.35" height="2.17" fill="#5ea07e" stroke="#468466" stroke-width="0.35"/>
<rect x="588.58" y="123.88" width="2.35" height="5.94" fill="#d54b3c" stroke="#b8413a" stroke-width="0.35"/>
<rect x="592.31" y="129.57" width="2.35" height="36.95" fill="#d54b3c" stroke="#b8413a" stroke-width="0.35"/>
<rect x="596.04" y="165.08" width="2.35" height="1.54" fill="#5ea07e" stroke="#468466" stroke-width="0.35"/>
<rect x="599.76" y="152.12" width="2.35" height="13.49" fill="#5ea07e" stroke="#468466" stroke-width="0.35"/>
<rect x="603.49" y="145.58" width="2.35" height="6.82" fill="#5ea07e" stroke="#468466" stroke-width="0.35"/>
<rect x="607.22" y="145.58" width="2.35" height="8.96" fill="#d54b3c" stroke="#b8413a" stroke-width="0.35"/>
<rect x="610.94" y="154.26" width="2.35" height="8.46" fill="#d54b3c" stroke="#b8413a" stroke-width="0.35"/>
<rect x="614.67" y="162.81" width="2.35" height="7.57" fill="#d54b3c" stroke="#b8413a" stroke-width="0.35"/>
<rect x="618.40" y="170.11" width="2.35" height="3.42" fill="#d54b3c" stroke="#b8413a" stroke-width="0.35"/>
<rect x="622.12" y="167.21" width="2.35" height="6.32" fill="#5ea07e" stroke="#468466" stroke-width="0.35"/>
<rect x="625.85" y="164.45" width="2.35" height="3.05" fill="#5ea07e" stroke="#468466" stroke-width="0.35"/>
<rect x="629.58" y="155.01" width="2.35" height="9.59" fill="#5ea07e" stroke="#468466" stroke-width="0.35"/>
<rect x="633.30" y="155.01" width="2.35" height="6.57" fill="#d54b3c" stroke="#b8413a" stroke-width="0.35"/>
<rect x="637.03" y="161.30" width="2.35" height="5.31" fill="#d54b3c" stroke="#b8413a" stroke-width="0.35"/>
<rect x="640.75" y="164.07" width="2.35" height="2.54" fill="#5ea07e" stroke="#468466" stroke-width="0.35"/>
<rect x="644.48" y="153.75" width="2.35" height="10.59" fill="#5ea07e" stroke="#468466" stroke-width="0.35"/>
<rect x="648.21" y="146.21" width="2.35" height="7.20" fill="#5ea07e" stroke="#468466" stroke-width="0.35"/>
<rect x="651.93" y="142.06" width="2.35" height="4.30" fill="#5ea07e" stroke="#468466" stroke-width="0.35"/>
<rect x="655.66" y="142.47" width="2.35" height="0.85" fill="#d54b3c" stroke="#b8413a" stroke-width="0.35"/>
</g>
<g stroke="#9b8f89" stroke-width="0.75"><line x1="760.6" x2="760.6" y1="8" y2="419.5"/><line x1="5" x2="794.9" y1="405.2" y2="405.2"/></g>
<g font-size="6.6" fill="#8b8581" class="ax">
<text x="765.2" y="33.1" textLength="20" lengthAdjust="spacingAndGlyphs">4.4000</text>
<text x="765.2" y="54.0" textLength="20" lengthAdjust="spacingAndGlyphs">4.0000</text>
<text x="765.2" y="77.1" textLength="20" lengthAdjust="spacingAndGlyphs">3.6000</text>
<text x="765.2" y="102.9" textLength="20" lengthAdjust="spacingAndGlyphs">3.2000</text>
<text x="765.2" y="124.4" textLength="20" lengthAdjust="spacingAndGlyphs">2.9000</text>
<text x="765.2" y="140.1" textLength="20" lengthAdjust="spacingAndGlyphs">2.7000</text>
<text x="765.2" y="156.9" textLength="20" lengthAdjust="spacingAndGlyphs">2.5000</text>
<text x="765.2" y="175.2" textLength="20" lengthAdjust="spacingAndGlyphs">2.3000</text>
<text x="765.2" y="195.1" textLength="20" lengthAdjust="spacingAndGlyphs">2.1000</text>
<text x="765.2" y="211.3" textLength="20" lengthAdjust="spacingAndGlyphs">1.9500</text>
<text x="765.2" y="228.9" textLength="20" lengthAdjust="spacingAndGlyphs">1.8000</text>
<text x="765.2" y="247.9" textLength="20" lengthAdjust="spacingAndGlyphs">1.6500</text>
<text x="765.2" y="268.8" textLength="20" lengthAdjust="spacingAndGlyphs">1.5000</text>
<text x="765.2" y="283.9" textLength="20" lengthAdjust="spacingAndGlyphs">1.4000</text>
<text x="765.2" y="300.1" textLength="20" lengthAdjust="spacingAndGlyphs">1.3000</text>
<text x="765.2" y="317.7" textLength="20" lengthAdjust="spacingAndGlyphs">1.2000</text>
<text x="765.2" y="332.8" textLength="20" lengthAdjust="spacingAndGlyphs">1.1200</text>
<text x="765.2" y="349.0" textLength="20" lengthAdjust="spacingAndGlyphs">1.0400</text>
<text x="765.2" y="364.3" textLength="20" lengthAdjust="spacingAndGlyphs">0.9700</text>
<text x="765.2" y="380.7" textLength="20" lengthAdjust="spacingAndGlyphs">0.9000</text>
<text x="765.2" y="395.8" textLength="20" lengthAdjust="spacingAndGlyphs">0.8400</text>
</g>
<g font-size="6.6" font-weight="bold" fill="#5a5654" text-anchor="middle">
<text x="105.3" y="415">Jun</text>
<text x="217.1" y="415">Jul</text>
<text x="332.6" y="415">Aug</text>
<text x="448.2" y="415">Sep</text>
<text x="560.0" y="415">Oct</text>
<text x="675.5" y="415">Nov</text>
</g>
<rect x="762" y="10.2" width="31.3" height="13.5" rx="2" fill="#fffdfc"/>
<text x="775.3" y="19" font-size="6.3" font-weight="bold" fill="#444" text-anchor="middle">USDT</text>
<rect x="728.7" y="139.4" width="32" height="8.3" rx="1" fill="#d54b3c"/>
<rect x="760.4" y="139.2" width="32.7" height="14.7" rx="1" fill="#d54b3c"/>
<text x="730.8" y="145.8" font-size="6" fill="#fff" textLength="26.8" lengthAdjust="spacingAndGlyphs">XRPUSDT</text>
<text x="765.2" y="146" font-size="6.6" fill="#fff" textLength="20" lengthAdjust="spacingAndGlyphs">2.6316</text>
<text x="765.2" y="152" font-size="6.2" fill="#fff" fill-opacity="0.8" textLength="25.5" lengthAdjust="spacingAndGlyphs">10:39:19</text>
<g font-size="6.5" fill="#4d4a48" class="hd">
<text x="9.7" y="18.9" textLength="87.4" lengthAdjust="spacingAndGlyphs">XRP / TetherUS · 1D · Binance</text>
<text x="101.0" y="18.9" fill="#5e5957">O</text>
<text x="106.0" y="18.9" fill="#8c3c33" textLength="21.5" lengthAdjust="spacingAndGlyphs">2.6460</text>
<text x="130.7" y="18.9" fill="#5e5957">H</text>
<text x="135.0" y="18.9" fill="#8c3c33" textLength="21.2" lengthAdjust="spacingAndGlyphs">2.6749</text>
<text x="160.0" y="18.9" fill="#5e5957">L</text>
<text x="163.0" y="18.9" fill="#8c3c33" textLength="20.7" lengthAdjust="spacingAndGlyphs">2.6051</text>
<text x="187.5" y="18.9" fill="#5e5957">C</text>
<text x="191.3" y="18.9" fill="#8c3c33" textLength="20.7" lengthAdjust="spacingAndGlyphs">2.6316</text>
<text x="216.2" y="18.9" fill="#8c3c33" textLength="53.8" lengthAdjust="spacingAndGlyphs">−0.0145 (−0.55%)</text>
<text x="9.7" y="28.1" textLength="26.4" lengthAdjust="spacingAndGlyphs">Vol · XRP</text>
<text x="40.5" y="28.1" fill="#e8534a" textLength="22.1" lengthAdjust="spacingAndGlyphs">57.22 M</text>
<text x="9.7" y="37.1" textLength="46.5" lengthAdjust="spacingAndGlyphs">EMA (20, close)</text>
<text x="60.6" y="37.1" fill="#4f8f55" textLength="20.5" lengthAdjust="spacingAndGlyphs">2.5564</text>
<text x="9.7" y="46.1" textLength="47.2" lengthAdjust="spacingAndGlyphs">SMA (50, close)</text>
<text x="61" y="46.1" fill="#e8534a" textLength="19.1" lengthAdjust="spacingAndGlyphs">2.7714</text>
</g>
<rect x="0" y="0" width="800" height="8.3" fill="#1e1e1e"/>
<text x="5.8" y="5" font-size="6.6" fill="#f2f2f2" textLength="205.2" lengthAdjust="spacingAndGlyphs">bitcoinwallah created with TradingView.com, Oct 27, 2025 13:20 UTC</text>
<g fill="#dcdcdc"><path d="M6 431h6.5v8.4h-3.5v-5H6z"/><circle cx="14.8" cy="432.6" r="1.75"/><path d="M18.5 431h3.8l-3.6 8.4h-3.8z"/></g>
<text x="26.2" y="439.4" font-size="11" font-weight="bold" fill="#dcdcdc" textLength="63.2" lengthAdjust="spacingAndGlyphs">TradingView</text>
</svg></body></html>
